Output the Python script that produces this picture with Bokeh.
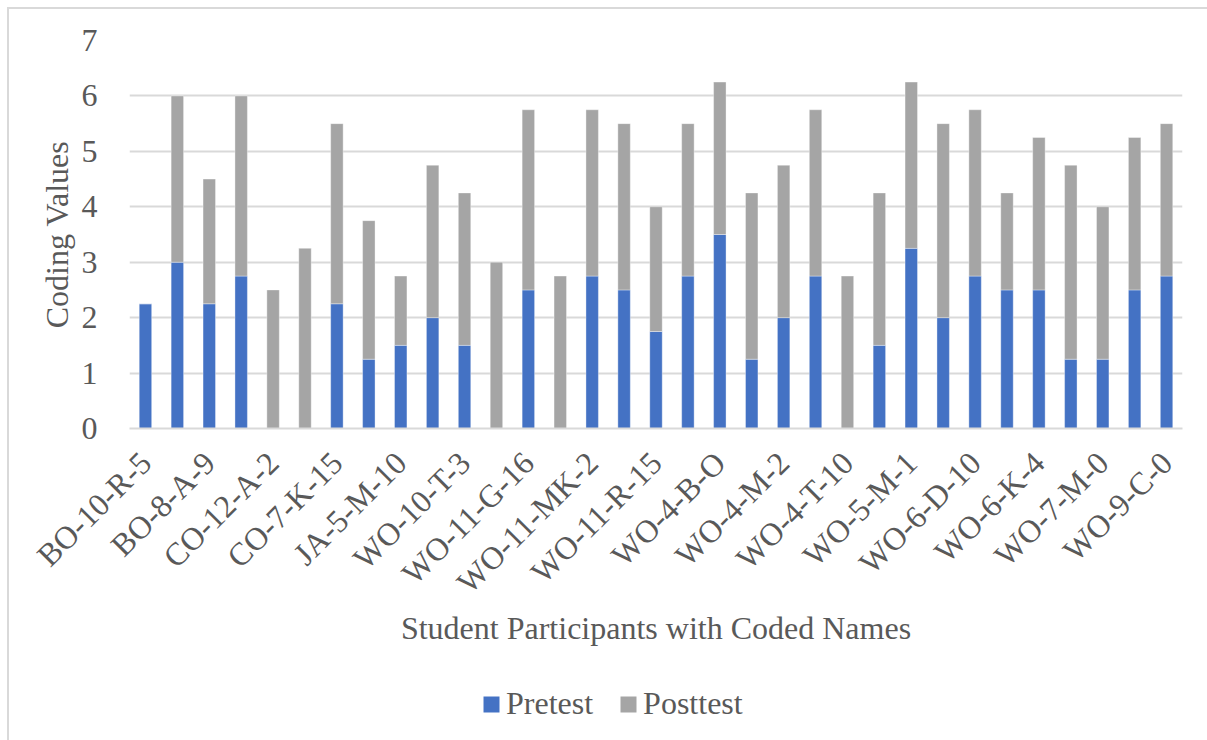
from bokeh.plotting import figure
from bokeh.models import ColumnDataSource, FixedTicker, Legend, LegendItem
from bokeh.layouts import column
from bokeh.embed import file_html
from bokeh.resources import INLINE
import math

# Data
tick_labels = ["BO-10-R-5", "BO-8-A-9", "CO-12-A-2", "CO-7-K-15", "JA-5-M-10",
               "WO-10-T-3", "WO-11-G-16", "WO-11-MK-2", "WO-11-R-15", "WO-4-B-O",
               "WO-4-M-2", "WO-4-T-10", "WO-5-M-1", "WO-6-D-10", "WO-6-K-4",
               "WO-7-M-0", "WO-9-C-0"]
pretest = [2.25, 3, 2.25, 2.75, 0, 0, 2.25, 1.25, 1.5, 2, 1.5, 0, 2.5, 0, 2.75, 2.5, 1.75,
           2.75, 3.5, 1.25, 2, 2.75, 0, 1.5, 3.25, 2, 2.75, 2.5, 2.5, 1.25, 1.25, 2.5, 2.75]
posttest = [0, 3, 2.25, 3.25, 2.5, 3.25, 3.25, 2.5, 1.25, 2.75, 2.75, 3, 3.25, 2.75, 3, 3, 2.25,
            2.75, 2.75, 3, 2.75, 3, 2.75, 2.75, 3, 3.5, 3, 1.75, 2.75, 3.5, 2.75, 2.75, 2.75]
series = ["Pretest", "Posttest"]
colors = ["#4472C4", "#A5A5A5"]

n = len(pretest)
xs = list(range(n))
source = ColumnDataSource(dict(x=xs, Pretest=pretest, Posttest=posttest))

FONT = "Liberation Serif"
TXT = "#595959"
GRID = "#D9D9D9"

p = figure(width=1200, height=660, x_range=(-0.5, n - 0.5), y_range=(0, 7),
           output_backend="svg", toolbar_location=None,
           min_border_left=120, min_border_right=27, min_border_top=31, min_border_bottom=241)
p.outline_line_color = None
p.background_fill_color = "white"
p.border_fill_color = "white"

renderers = p.vbar_stack(series, x="x", width=0.39, color=colors, source=source,
                         line_color="white", line_width=0.6, line_alpha=0.6)

# Axes
p.xaxis.ticker = FixedTicker(ticks=[2 * i for i in range(len(tick_labels))])
p.xaxis.major_label_overrides = {2 * i: lab for i, lab in enumerate(tick_labels)}
p.xaxis.major_label_orientation = math.pi / 4
p.xaxis.major_label_text_font = FONT
p.xaxis.major_label_text_font_size = "32px"
p.xaxis.major_label_text_color = TXT
p.xaxis.major_label_standoff = 23
p.xaxis.major_tick_line_color = None
p.xaxis.minor_tick_line_color = None
p.xaxis.axis_line_color = GRID
p.xaxis.axis_line_width = 2
p.xaxis.axis_label = "Student Participants with Coded Names"
p.xaxis.axis_label_text_font = FONT
p.xaxis.axis_label_text_font_size = "32px"
p.xaxis.axis_label_text_font_style = "normal"
p.xaxis.axis_label_text_color = TXT
p.xaxis.axis_label_standoff = -6

p.yaxis.ticker = FixedTicker(ticks=[0, 1, 2, 3, 4, 5, 6, 7])
p.yaxis.major_label_text_font = FONT
p.yaxis.major_label_text_font_size = "32px"
p.yaxis.major_label_text_color = TXT
p.yaxis.major_label_standoff = 26
p.yaxis.major_tick_line_color = None
p.yaxis.minor_tick_line_color = None
p.yaxis.axis_line_color = None
p.yaxis.axis_label = "Coding Values"
p.yaxis.axis_label_text_font = FONT
p.yaxis.axis_label_text_font_size = "32px"
p.yaxis.axis_label_text_font_style = "normal"
p.yaxis.axis_label_text_color = TXT
p.yaxis.axis_label_standoff = 4

p.xgrid.grid_line_color = None
p.ygrid.grid_line_color = GRID
p.ygrid.grid_line_width = 2

# Legend strip below the chart (swatch renderers sit outside the visible range)
lg = figure(width=1200, height=73, x_range=(0, 1), y_range=(0, 1),
            output_backend="svg", toolbar_location=None,
            min_border_left=0, min_border_right=0, min_border_top=0, min_border_bottom=0,
            x_axis_type=None, y_axis_type=None)
lg.outline_line_color = None
lg.xgrid.grid_line_color = None
lg.ygrid.grid_line_color = None
swatches = [lg.quad(left=[5], right=[6], top=[5], bottom=[4], color=c, line_color=None) for c in colors]
legend = Legend(items=[LegendItem(label=s, renderers=[r]) for s, r in zip(series, swatches)],
                orientation="horizontal", location=(352, 20),
                label_text_font=FONT, label_text_font_size="32px", label_text_color=TXT,
                glyph_width=20, glyph_height=20, label_standoff=5, spacing=25,
                border_line_color=None, background_fill_alpha=0, margin=0, padding=5)
lg.add_layout(legend, "center")

layout = column(p, lg, spacing=0)
layout.margin = (7, 0, 0, 7)
layout.styles = {"border-top": "2px solid #D9D9D9", "border-left": "2px solid #D9D9D9"}

open("out.html", "w").write(file_html(layout, INLINE))
